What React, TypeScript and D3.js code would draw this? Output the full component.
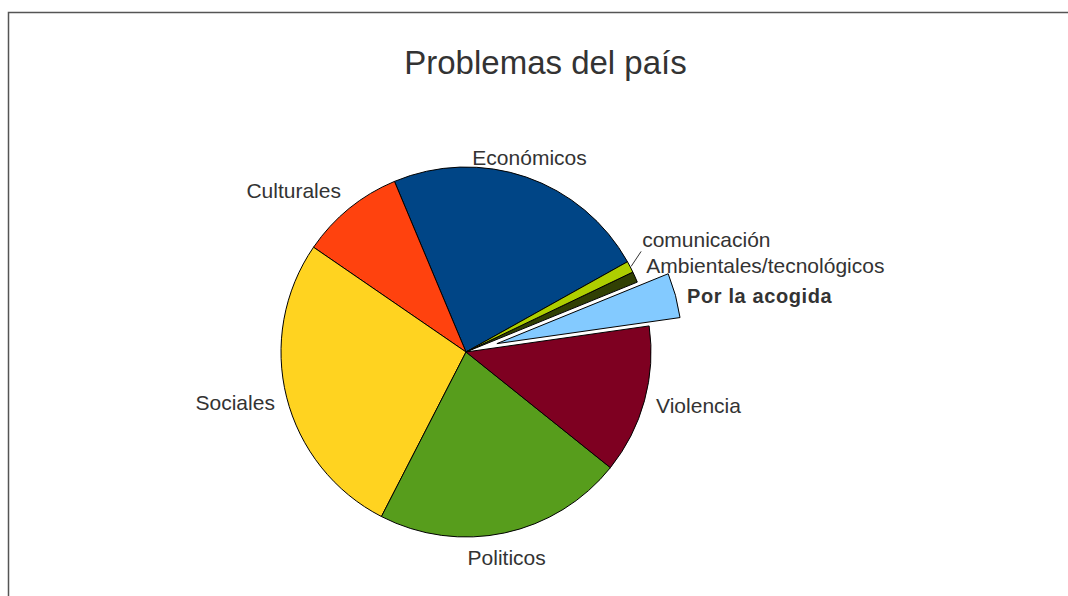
import React from "react";
import * as d3 from "d3";

const categories = [
  "Económicos",
  "Culturales",
  "Sociales",
  "Politicos",
  "Violencia",
  "Por la acogida",
  "Ambientales/tecnológicos",
  "comunicación",
];
const values = [83.55, 32.75, 97.3, 78.5, 46.8, 14.1, 3.4, 3.6];
const colors = ["#004586", "#ff420e", "#ffd320", "#579d1c", "#7e0021", "#83caff", "#314004", "#aecf00"];
const exploded = ["Por la acogida"];
const boldLabels = ["Por la acogida"];
const title = "Problemas del país";

const W = 1068;
const H = 596;
const cx = 466;
const cy = 352;
const R = 185;
const startDeg = 60.8;

export default function App() {
  const start = (startDeg * Math.PI) / 180;
  const pie = d3
    .pie<number>()
    .sort(null)
    .value((d) => d)
    .startAngle(start)
    .endAngle(start - 2 * Math.PI);
  const arcs = pie(values);
  const arc = d3.arc<d3.PieArcDatum<number>>().innerRadius(0).outerRadius(R);

  const font = "'Liberation Sans', Arial, sans-serif";

  return (
    <svg
      width={W}
      height={H}
      style={{ position: "absolute", left: 0, top: 0, background: "#fff" }}
    >
      <rect x={8.5} y={12.5} width={1200} height={1000} fill="#fff" stroke="#555" strokeWidth={1.5} />
      <text x={545.5} y={74} textAnchor="middle" fontFamily={font} fontSize={33} fill="#333">
        {title}
      </text>
      {arcs.map((a, i) => {
        const mid = (a.startAngle + a.endAngle) / 2;
        const isEx = exploded.includes(categories[i]);
        const off = isEx ? 32 : 0;
        const ox = cx + off * Math.sin(mid);
        const oy = cy - off * Math.cos(mid);
        return (
          <path
            key={categories[i]}
            d={arc(a) || ""}
            transform={`translate(${ox},${oy})`}
            fill={colors[i]}
            stroke="#000"
            strokeWidth={1}
            strokeLinejoin="round"
          />
        );
      })}
      {arcs.map((a, i) => {
        const name = categories[i];
        const mid = (a.startAngle + a.endAngle) / 2;
        const isEx = exploded.includes(name);
        const off = isEx ? 32 : 0;
        const ox = cx + off * Math.sin(mid);
        const oy = cy - off * Math.cos(mid);
        const s = Math.sin(mid);
        const c = Math.cos(mid);
        const px = ox + (R + 10) * s;
        const py = oy - (R + 10) * c;
        const bold = boldLabels.includes(name);
        if (name === "comunicación") {
          const x1 = ox + (R + 1) * s;
          const y1 = oy - (R + 1) * c;
          const x2 = x1 + 10;
          const y2 = y1 - 15;
          return (
            <g key={name}>
              <line x1={x1} y1={y1} x2={x2} y2={y2} stroke="#333" strokeWidth={1} />
              <text x={x2 + 1} y={y2 - 4} fontFamily={font} fontSize={21} fill="#333">
                {name}
              </text>
            </g>
          );
        }
        let anchor: "start" | "end" | "middle" = "middle";
        let tx = px;
        if (s > 0.35) {
          anchor = "start";
          tx = px + 2;
        } else if (s < -0.35) {
          anchor = "end";
          tx = px - 2;
        }
        let ty = py + 10;
        if (c > 0.35) ty = py - 3;
        else if (c < -0.35) ty = py + 22;
        if (name === "Ambientales/tecnológicos") ty = py;
        return (
          <text
            key={name}
            x={tx}
            y={ty}
            textAnchor={anchor}
            fontFamily={font}
            fontSize={bold ? 20 : 21}
            fontWeight={bold ? "bold" : "normal"}
            letterSpacing={bold ? 0.6 : 0}
            fill="#333"
          >
            {name}
          </text>
        );
      })}
    </svg>
  );
}
